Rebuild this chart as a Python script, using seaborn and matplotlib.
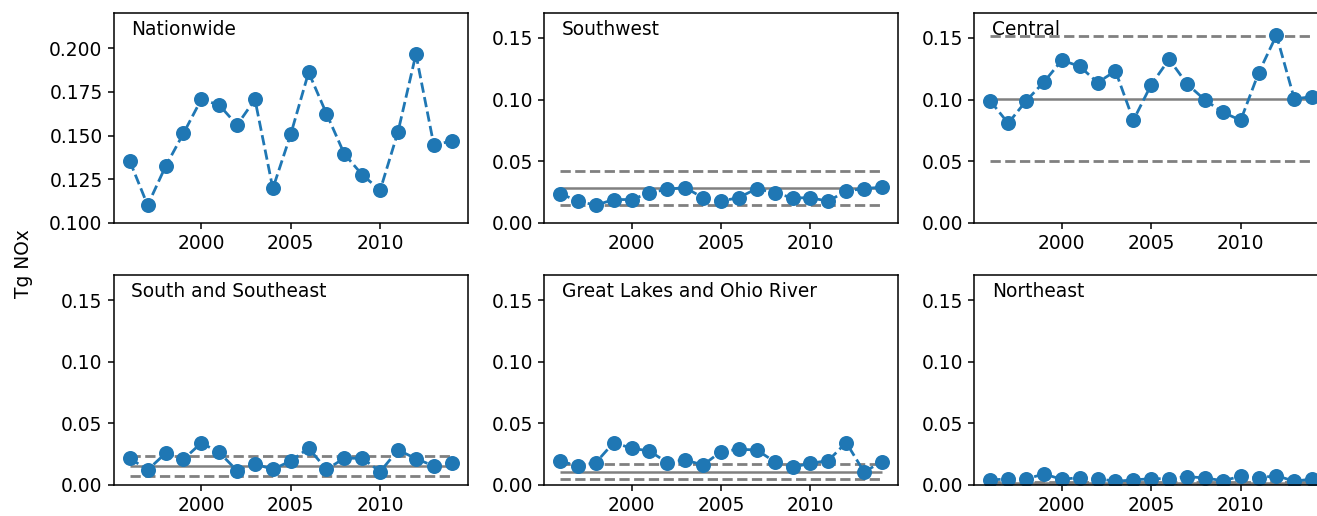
import numpy as np
import pandas as pd
import seaborn as sns
import matplotlib
matplotlib.use("Agg")
import matplotlib.pyplot as plt

years = list(range(1996, 2015))

regions = ["Nationwide", "Southwest", "Central",
           "South and Southeast", "Great Lakes and Ohio River", "Northeast"]

nationwide = [0.1354, 0.1101, 0.1323, 0.1512, 0.1707, 0.1675, 0.1560, 0.1707, 0.1197, 0.1507,
              0.1862, 0.1625, 0.1394, 0.1275, 0.1187, 0.1522, 0.1966, 0.1447, 0.1468]
southwest = [0.0238, 0.0176, 0.0143, 0.0189, 0.0189, 0.0243, 0.0273, 0.0286, 0.0203, 0.0176,
             0.0205, 0.0278, 0.0243, 0.0203, 0.0203, 0.0176, 0.0259, 0.0278, 0.0289]
central = [0.0989, 0.0808, 0.0989, 0.1143, 0.1319, 0.1270, 0.1138, 0.1232, 0.0832, 0.1122,
           0.1327, 0.1127, 0.0997, 0.0897, 0.0832, 0.1216, 0.1522, 0.1005, 0.1024]
south_southeast = [0.0217, 0.0122, 0.0257, 0.0208, 0.0341, 0.0265, 0.0116, 0.0171, 0.0127, 0.0195,
                   0.0298, 0.0127, 0.0217, 0.0217, 0.0108, 0.0284, 0.0214, 0.0154, 0.0181]
great_lakes = [0.0195, 0.0154, 0.0181, 0.0344, 0.0298, 0.0276, 0.0181, 0.0203, 0.0162, 0.0271,
               0.0290, 0.0284, 0.0189, 0.0144, 0.0176, 0.0198, 0.0344, 0.0106, 0.0189]
northeast = [0.0041, 0.0049, 0.0049, 0.0089, 0.0046, 0.0060, 0.0051, 0.0030, 0.0041, 0.0051,
             0.0051, 0.0068, 0.0057, 0.0035, 0.0070, 0.0057, 0.0076, 0.0030, 0.0049]

# reference level (solid grey) and its bounds (dashed grey); None = not drawn
ref_mean = [None, 0.0284, 0.1008, 0.0154, 0.0108, 0.0016]
ref_low = [None, 0.0141, 0.0503, 0.0076, 0.0051, 0.0008]
ref_high = [None, 0.0424, 0.1516, 0.0238, 0.0168, 0.0025]

ylims = [(0.10, 0.22), (0, 0.17), (0, 0.17), (0, 0.17), (0, 0.17), (0, 0.17)]

series = [nationwide, southwest, central, south_southeast, great_lakes, northeast]
df = pd.concat([pd.DataFrame({"year": years, "nox": vals, "region": name})
                for name, vals in zip(regions, series)], ignore_index=True)

plt.rcParams.update({
    "font.family": ["DejaVu Sans"],
    "font.size": 13.4,
    "axes.linewidth": 1.1,
    "xtick.major.size": 4.5,
    "ytick.major.size": 4.5,
    "xtick.major.width": 1.1,
    "ytick.major.width": 1.1,
})

fig, axes = plt.subplots(2, 3, figsize=(13.17, 5.16), dpi=100)
fig.subplots_adjust(left=0.0863, right=1.0086, bottom=0.0601, top=0.9742,
                    wspace=0.215, hspace=0.251)

for i, (ax, name) in enumerate(zip(axes.flat, regions)):
    if ref_mean[i] is not None:
        ax.hlines(ref_mean[i], years[0], years[-1], colors="grey", lw=1.8, zorder=1)
        ax.hlines([ref_low[i], ref_high[i]], years[0], years[-1], colors="grey",
                  linestyles="--", lw=2.0, zorder=1)
    sns.lineplot(data=df[df["region"] == name], x="year", y="nox", ax=ax,
                 color="#1f77b4", linestyle="--", lw=2.0, marker="o",
                 markersize=10.8, markeredgewidth=0, zorder=2)
    ax.set_ylim(*ylims[i])
    ax.set_xlim(1995.1, 2014.9)
    ax.set_xticks([2000, 2005, 2010])
    if i == 0:
        ax.set_yticks([0.100, 0.125, 0.150, 0.175, 0.200])
    else:
        ax.set_yticks([0.00, 0.05, 0.10, 0.15])
    ax.set_xlabel("")
    ax.set_ylabel("")
    ax.text(0.05, 0.97, name, transform=ax.transAxes, va="top", ha="left")

fig.text(0.0175, 0.49, "Tg NOx", rotation=90, va="center", ha="center")

fig.savefig("out.png", dpi=100)
